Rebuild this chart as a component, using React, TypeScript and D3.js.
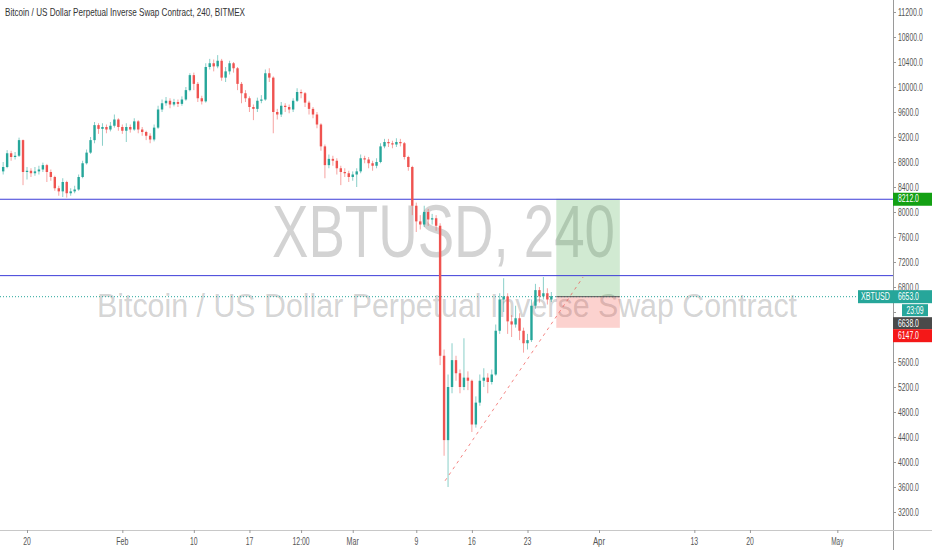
import * as d3 from "d3";

// 12h candles from 17 Jan 2020, opens follow the previous close
const firstOpen = 8650;
const closes = [
  8720, 8940, 8880, 8900, 9150, 8640, 8660, 8620, 8650, 8680,
  8750, 8640, 8560, 8380, 8330, 8480, 8300, 8330, 8360, 8560,
  8780, 8950, 9150, 9390, 9330, 9360, 9320, 9380, 9480, 9360,
  9300, 9360, 9320, 9450, 9320, 9280, 9220, 9160, 9350, 9640,
  9740, 9780, 9720, 9760, 9730, 9800, 9950, 10190, 10050, 9820,
  9770, 10320, 10380, 10330, 10420, 10150, 10250, 10380, 10300, 10050,
  9900, 9820, 9680, 9650, 9780, 9800, 10220, 10150, 9600, 9560,
  9700, 9680, 9640, 9780, 9920, 9900, 9750, 9650, 9560, 9400,
  9050, 8750, 8850, 8820, 8700, 8640, 8620, 8560, 8600, 8650,
  8860, 8840, 8780, 8740, 8800, 9050, 9120, 9100, 9080, 9120,
  9100, 8880, 8720, 8100, 7850, 7800, 8000, 7880, 7900, 7780,
  5700, 4350, 5200, 5630, 5420, 5200, 5350, 5300, 4600, 4950,
  5300, 5350, 5280, 5400, 6100, 6600, 6650, 6250, 6200, 6300,
  6100, 5900, 5950, 6500, 6750, 6650, 6700, 6600, 6653,
];
const highs = [
  8800, 8990, 8980, 8960, 9190, 9160, 8720, 8700, 8720, 8740,
  8790, 8770, 8680, 8580, 8420, 8540, 8500, 8380, 8420, 8600,
  8820, 9000, 9200, 9440, 9420, 9420, 9400, 9440, 9560, 9500,
  9400, 9420, 9400, 9500, 9470, 9360, 9300, 9260, 9400, 9700,
  9800, 9840, 9820, 9810, 9800, 9850, 10000, 10220, 10230, 10080,
  9860, 10380, 10450, 10440, 10510, 10450, 10320, 10420, 10400, 10320,
  10080, 9950, 9850, 9720, 9830, 9870, 10280, 10300, 10170, 9650,
  9760, 9740, 9720, 9820, 9980, 9960, 9920, 9780, 9680, 9600,
  9420, 9080, 8920, 8900, 8860, 8740, 8700, 8660, 8650, 8700,
  8920, 8900, 8880, 8820, 8860, 9100, 9170, 9170, 9140, 9180,
  9170, 9120, 8900, 8740, 8150, 7950, 8100, 8050, 7970, 7950,
  7820, 5800, 5400, 5900, 5700, 5480, 5980, 5450, 5320, 5050,
  5400, 5500, 5420, 5480, 6200, 6700, 6940, 6700, 6350, 6500,
  6380, 6150, 6050, 6600, 6850, 6800, 6960, 6780, 6720,
];
const lows = [
  8600, 8700, 8820, 8840, 8880, 8430, 8520, 8560, 8580, 8600,
  8640, 8480, 8500, 8340, 8260, 8240, 8230, 8260, 8300, 8340,
  8540, 8760, 8930, 9100, 9250, 9060, 9260, 9290, 9350, 9300,
  9250, 9120, 9270, 9300, 9260, 9220, 9150, 9100, 9130, 9330,
  9600, 9700, 9660, 9690, 9680, 9700, 9780, 9930, 9950, 9760,
  9720, 9750, 10280, 10250, 10300, 10100, 10080, 10200, 10230, 9950,
  9740, 9760, 9600, 9470, 9600, 9740, 9780, 10080, 9260, 9480,
  9520, 9600, 9580, 9600, 9760, 9820, 9680, 9560, 9500, 9340,
  8980, 8540, 8700, 8740, 8600, 8430, 8560, 8480, 8500, 8400,
  8620, 8780, 8700, 8660, 8700, 8780, 9020, 9040, 9020, 9040,
  9050, 8840, 8660, 7950, 7680, 7720, 7760, 7780, 7800, 7700,
  5550, 4100, 3600, 5100, 5300, 5100, 5150, 5150, 4480, 4550,
  4900, 5200, 5100, 5240, 5380, 6050, 6400, 6050, 6000, 6150,
  5950, 5750, 5800, 5920, 6450, 6550, 6600, 6520, 6560,
];
const candleStart = new Date(2020, 0, 17);

const yTicks = [3200, 3600, 4000, 4400, 4800, 5200, 5600, 6000, 6400, 6800, 7200, 7600, 8000, 8400, 8800, 9200, 9600, 10000, 10400, 10800, 11200];
const xTickDates = [
  new Date(2020, 0, 20), new Date(2020, 1, 1), new Date(2020, 1, 10), new Date(2020, 1, 17),
  new Date(2020, 1, 23, 12), new Date(2020, 2, 1), new Date(2020, 2, 9), new Date(2020, 2, 16),
  new Date(2020, 2, 23), new Date(2020, 3, 1), new Date(2020, 3, 13), new Date(2020, 3, 20), new Date(2020, 4, 1),
];
const xTickLabels = ["20", "Feb", "10", "17", "12:00", "Mar", "9", "16", "23", "Apr", "13", "20", "May"];

const hLines = [8212, 6990];
const lastPrice = 6653;
const entryPrice = 6638;
const targetPrice = 8212;
const stopPrice = 6147;
const positionFrom = new Date(2020, 2, 26, 15);
const positionTo = new Date(2020, 3, 3, 15);
const trendFrom = { t: new Date(2020, 2, 12, 15), p: 3700 };
const trendTo = { t: new Date(2020, 2, 30, 0), p: 6960 };

const W = 932;
const H = 550;
const axisX = 893;
const axisY = 530;
const UP = "#26a69a";
const DOWN = "#ef5350";
const FONT = "Arial, 'Liberation Sans', sans-serif";

// rough width of the condensed axis font at 10px
function tw(s: string) {
  let w = 0;
  for (const ch of s) {
    if (/[0-9]/.test(ch)) w += 3.8;
    else if (ch === "." || ch === ":") w += 1.9;
    else if (/[A-Z]/.test(ch)) w += 4.8;
    else w += 3.7;
  }
  return w;
}

function Label({ x, y, s, fill = "#555", anchor = "start" }: { x: number; y: number; s: string; fill?: string; anchor?: string }) {
  return (
    <text x={x} y={y} textAnchor={anchor} fontFamily={FONT} fontSize={10} fill={fill}
      textLength={tw(s)} lengthAdjust="spacingAndGlyphs">{s}</text>
  );
}

export default function App() {
  const x = d3.scaleTime().domain([new Date(2020, 0, 20), new Date(2020, 3, 1)]).range([27, 599]);
  const y = d3.scaleLinear().domain([3200, 11200]).range([512, 12]);
  const fmt = d3.format(".1f");

  const candles = closes.map((c, i) => ({
    t: d3.timeHour.offset(candleStart, i * 12),
    o: i === 0 ? firstOpen : closes[i - 1],
    h: highs[i],
    l: lows[i],
    c,
  }));

  const lastY = y(lastPrice);
  const bw = 2.4;
  // tick labels hidden behind the stacked price labels
  const hidden = (v: number) => y(v) > lastY + 6 && y(v) < lastY + 48;

  return (
    <svg width={W} height={H} style={{ position: "absolute", left: 0, top: 0, background: "#fff" }}>
      <rect width={W} height={H} fill="#fff" />

      {/* watermark */}
      <text x={272} y={257} fontFamily={FONT} fontSize={74}
        textLength={343} lengthAdjust="spacingAndGlyphs" fill="rgba(110,110,110,0.3)">XBTUSD, 240</text>
      <text x={97} y={317} fontFamily={FONT} fontSize={33}
        textLength={700} lengthAdjust="spacingAndGlyphs" fill="rgba(110,110,110,0.3)">Bitcoin / US Dollar Perpetual Inverse Swap Contract</text>

      {/* long position box */}
      <rect x={x(positionFrom)} y={y(targetPrice)} width={x(positionTo) - x(positionFrom)}
        height={y(lastPrice) - y(targetPrice)} fill="rgba(76,175,80,0.26)" />
      <rect x={x(positionFrom)} y={y(lastPrice)} width={x(positionTo) - x(positionFrom)}
        height={y(stopPrice) - y(lastPrice)} fill="rgba(244,67,54,0.24)" />

      {/* horizontal levels */}
      {hLines.map((p) => (
        <line key={p} x1={0} x2={axisX} y1={y(p) + 0.5} y2={y(p) + 0.5} stroke="#3c3cd8" strokeWidth={1} />
      ))}
      <line x1={0} x2={858} y1={lastY + 0.5} y2={lastY + 0.5} stroke={UP} strokeWidth={1} strokeDasharray="1 2" />
      <line x1={x(positionFrom)} x2={x(positionTo)} y1={lastY + 0.5} y2={lastY + 0.5} stroke="#555" strokeWidth={1} />

      {/* trend line */}
      <line x1={x(trendFrom.t)} y1={y(trendFrom.p)} x2={x(trendTo.t)} y2={y(trendTo.p)}
        stroke="#ef5350" strokeOpacity={0.7} strokeWidth={1} strokeDasharray="3 4" />

      {/* candles */}
      {candles.map((d, i) => {
        const cx = x(d.t);
        const col = d.c >= d.o ? UP : DOWN;
        const top = y(Math.max(d.o, d.c));
        const bot = y(Math.min(d.o, d.c));
        return (
          <g key={i}>
            <line x1={cx} x2={cx} y1={y(d.h)} y2={y(d.l)} stroke={col} strokeOpacity={0.6} strokeWidth={0.9} />
            <rect x={cx - bw / 2} y={top} width={bw} height={Math.max(1, bot - top)} fill={col} />
          </g>
        );
      })}

      {/* title */}
      <text x={5} y={16} fontFamily={FONT} fontSize={11} fill="#333"
        textLength={240} lengthAdjust="spacingAndGlyphs">Bitcoin / US Dollar Perpetual Inverse Swap Contract, 240, BITMEX</text>

      {/* axes */}
      <rect x={axisX} y={0} width={W - axisX} height={H} fill="#fff" />
      <rect x={0} y={axisY} width={axisX} height={H - axisY} fill="#fff" />
      <line x1={axisX + 0.5} x2={axisX + 0.5} y1={0} y2={H} stroke="#9a9a9a" />
      <line x1={0} x2={W} y1={axisY + 0.5} y2={axisY + 0.5} stroke="#c8c8c8" />

      {yTicks.map((v) => (
        <g key={v}>
          <line x1={axisX} x2={axisX + 3} y1={y(v) + 0.5} y2={y(v) + 0.5} stroke="#999" />
          {!hidden(v) && <Label x={898} y={y(v) + 3.5} s={fmt(v)} />}
        </g>
      ))}
      {xTickDates.map((d, i) => (
        <g key={i}>
          <line x1={x(d) + 0.5} x2={x(d) + 0.5} y1={axisY} y2={axisY + 3} stroke="#999" />
          <Label x={x(d)} y={545} s={xTickLabels[i]} anchor="middle" />
        </g>
      ))}

      {/* price labels */}
      <rect x={axisX} y={y(targetPrice) - 6} width={W - axisX} height={13} fill="#13a013" />
      <Label x={898} y={y(targetPrice) + 3.5} s={fmt(targetPrice)} fill="#fff" />

      <rect x={858} y={lastY - 6} width={axisX - 858} height={13} fill={UP} />
      <Label x={875.5} y={lastY + 3.5} s="XBTUSD" fill="#fff" anchor="middle" />
      <rect x={axisX} y={lastY - 6} width={W - axisX} height={13} fill={UP} />
      <Label x={898} y={lastY + 3.5} s={fmt(lastPrice)} fill="#fff" />

      <rect x={902} y={lastY + 8} width={26} height={12} fill={UP} />
      <Label x={915} y={lastY + 17.5} s="23:09" fill="#fff" anchor="middle" />

      <rect x={axisX} y={lastY + 21} width={W - axisX} height={12} fill="#4a4a4a" />
      <Label x={898} y={lastY + 30.5} s={fmt(entryPrice)} fill="#fff" />

      <rect x={axisX} y={lastY + 33} width={W - axisX} height={13} fill="#f41818" />
      <Label x={898} y={lastY + 43} s={fmt(stopPrice)} fill="#fff" />
    </svg>
  );
}
